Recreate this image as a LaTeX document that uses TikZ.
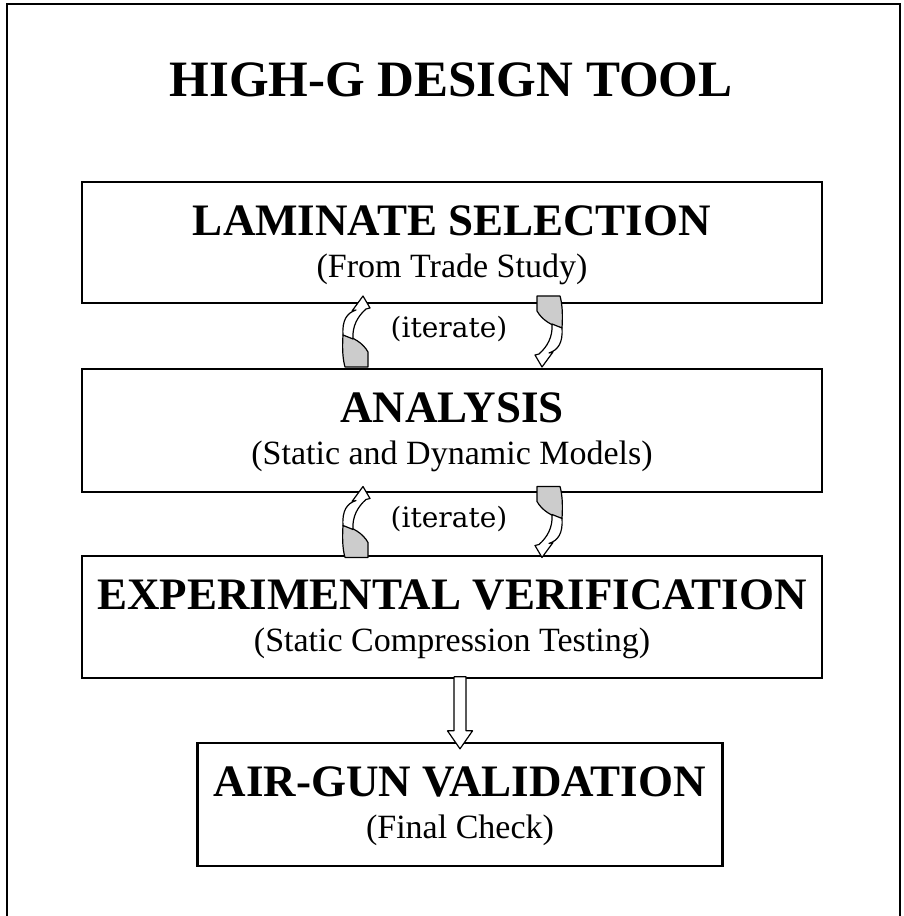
\documentclass[tikz,border=0pt]{standalone}
\usepackage{fontspec}
\setmainfont{Liberation Serif}
\newfontfamily\iterfont{DejaVu Serif}
\usepackage{tikz}

\begin{document}
\begin{tikzpicture}[x=1pt,y=1pt,
  stage/.style={draw,line width=2.3pt,minimum width=740pt,minimum height=122pt,inner sep=0pt},
  heading/.style={anchor=base,font=\fontsize{45}{54}\selectfont\bfseries},
  subline/.style={anchor=base,font=\fontsize{34}{40}\selectfont},
  iterlabel/.style={font=\iterfont\fontsize{28}{34}\selectfont},
  front/.style={draw,fill=white,line width=1.2pt,line join=round},
  back/.style={draw,fill=black!20,line width=1.2pt,line join=round}]
\useasboundingbox (0,0) rectangle (904,916);

% Outer frame (open at the bottom)
\draw[line width=2.5pt] (7,-5) -- (7,912) -- (900,912) -- (900,-5);

% Title
\node[anchor=base,font=\fontsize{51}{60}\selectfont\bfseries] (title) at (451,819) {HIGH-G DESIGN TOOL};

% Stage boxes
\node[stage,minimum height=121pt] (laminate) at (452,673.5) {};
\node[heading] (laminate-head) at ([yshift=-55pt]laminate.north) {LAMINATE SELECTION};
\node[subline] (laminate-sub) at ([yshift=-97pt]laminate.north) {(From Trade Study)};

\node[stage,minimum height=123pt] (analysis) at (452,485.5) {};
\node[heading] (analysis-head) at ([yshift=-55pt]analysis.north) {ANALYSIS};
\node[subline] (analysis-sub) at ([yshift=-97pt]analysis.north) {(Static and Dynamic Models)};

\node[stage] (verif) at (452,299) {};
\node[heading] (verif-head) at ([yshift=-55pt]verif.north) {EXPERIMENTAL VERIFICATION};
\node[subline] (verif-sub) at ([yshift=-97pt]verif.north) {(Static Compression Testing)};

\node[stage,minimum width=525pt,minimum height=123pt] (airgun) at (460,111.5) {};
\node[heading] (airgun-head) at ([yshift=-55pt]airgun.north) {AIR-GUN VALIDATION};
\node[subline] (airgun-sub) at ([yshift=-97pt]airgun.north) {(Final Check)};

% Iterate loops between the first three stages
\foreach \cy/\nm in {584.5/upper,394/lower}{
  \begin{scope}[shift={(452.5,\cy)}]
    \node[iterlabel] (iter-\nm) at (-3.5,2.5) {(iterate)};
    \foreach \rot in {0,180}{
      \begin{scope}[rotate=\rot]
        \draw[back] (-109.5,-3.5) .. controls (-110.5,-18.5) and (-109.5,-28.5) .. (-107.5,-35.5)
          -- (-84.5,-35.5) -- (-84.5,-20.5) .. controls (-89.5,-11.5) and (-99.5,-5.5) .. (-109.5,-3.5) -- cycle;
        \draw[front] (-109.5,-3.5) .. controls (-110.5,11.5) and (-105.5,18.5) .. (-96.5,21.5)
          -- (-100.5,20.5) -- (-89.5,35.5) -- (-82.5,23.5) -- (-86.5,22.5)
          .. controls (-94.5,15.5) and (-100.5,5.5) .. (-99.5,-7.5) -- cycle;
      \end{scope}
    }
  \end{scope}
}

% Hollow block arrow to the final check
\draw[front] ([xshift=-6pt,yshift=65pt]airgun.north) -- ([xshift=-6pt,yshift=11pt]airgun.north)
  -- ([xshift=-12.5pt,yshift=11pt]airgun.north) -- ([yshift=-7pt]airgun.north)
  -- ([xshift=12.5pt,yshift=11pt]airgun.north) -- ([xshift=6pt,yshift=11pt]airgun.north)
  -- ([xshift=6pt,yshift=65pt]airgun.north) -- cycle;
\end{tikzpicture}
\end{document}
